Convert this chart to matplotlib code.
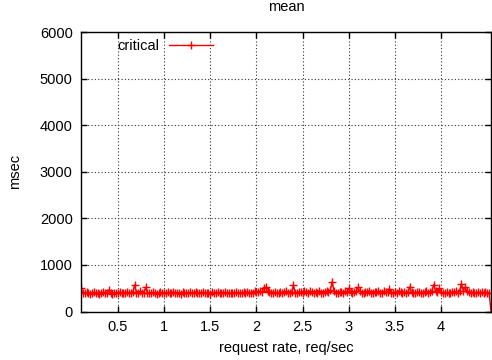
import numpy as np
import matplotlib
matplotlib.use('Agg')
import matplotlib.pyplot as plt

# request rate (req/sec), one sample every 0.02
rate = np.round(np.linspace(0.10, 4.54, 223), 2)
# mean response time (msec)
mean_ms = [
    500, 395, 388, 410, 402, 378, 395, 415, 392, 405, 386, 400, 412, 395, 404, 460, 398, 385, 407, 396,
    390, 412, 401, 388, 397, 420, 393, 405, 410, 570, 402, 395, 430, 388, 401, 520, 396, 407, 390, 412,
    398, 385, 404, 415, 392, 400, 387, 409, 396, 402, 418, 391, 399, 406, 384, 412, 397, 403, 390, 408,
    395, 401, 420, 388, 404, 397, 410, 392, 405, 399, 386, 414, 400, 393, 408, 396, 402, 389, 411, 398,
    404, 391, 407, 395, 416, 400, 388, 403, 410, 396, 425, 399, 405, 392, 430, 408, 415, 440, 420, 500,
    520, 430, 410, 398, 405, 415, 393, 402, 420, 396, 408, 430, 401, 395, 412, 570, 405, 398, 425, 410,
    395, 430, 408, 401, 440, 415, 398, 420, 405, 450, 402, 395, 418, 430, 410, 460, 640, 440, 405, 398,
    420, 412, 395, 430, 408, 500, 420, 398, 410, 440, 520, 430, 402, 395, 420, 410, 450, 405, 398, 425,
    412, 440, 400, 395, 430, 410, 420, 480, 405, 398, 415, 402, 440, 410, 395, 420, 405, 412, 530, 420,
    400, 395, 410, 425, 402, 398, 415, 430, 405, 420, 450, 575, 440, 410, 500, 420, 400, 395, 412, 405,
    398, 420, 410, 430, 402, 440, 600, 450, 520, 430, 410, 400, 415, 395, 405, 420, 398, 410, 402, 415,
    405, 398, 0,
]
xticks = [0.5, 1, 1.5, 2, 2.5, 3, 3.5, 4]
xticklabels = ['0.5', '1', '1.5', '2', '2.5', '3', '3.5', '4']
yticks = [0, 1000, 2000, 3000, 4000, 5000, 6000]

plt.rcParams['font.family'] = ['Liberation Sans', 'DejaVu Sans']
plt.rcParams['font.size'] = 10.5

fig = plt.figure(figsize=(4.92, 3.6), dpi=100)
ax = fig.add_axes([81/492, 1-311.5/360, 410/492, (311.5-32)/360])

ax.plot(rate, mean_ms, color='#ff0000', lw=1, marker='+', ms=6, mew=1,
        label='critical')

ax.set_xlim(0.1, 4.54)
ax.set_ylim(0, 6000)
ax.set_xticks(xticks)
ax.set_xticklabels(xticklabels)
ax.set_yticks(yticks)
ax.tick_params(direction='in', top=True, right=True, length=4, width=1)
ax.tick_params(axis='x', pad=6)
ax.tick_params(axis='y', pad=6)
ax.grid(True, color='#333333', ls=(0, (1, 2)), lw=0.8)
for s in ax.spines.values():
    s.set_linewidth(1)

ax.set_title('mean', fontsize=10.5, pad=15)
ax.set_xlabel('request rate, req/sec', labelpad=5)
ax.set_ylabel('msec', labelpad=13)

ax.legend(loc='upper left', bbox_to_anchor=(117/492, 1-39/360),
          bbox_transform=fig.transFigure, frameon=False, markerfirst=False,
          handlelength=3, borderpad=0, borderaxespad=0, handletextpad=0.7)

fig.savefig('out.png', dpi=100)
